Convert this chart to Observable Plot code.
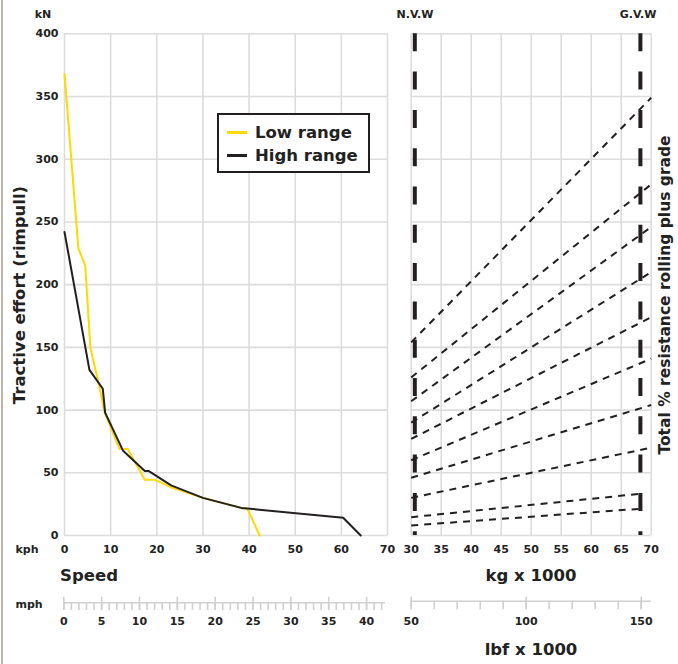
<!DOCTYPE html>
<html><head><meta charset="utf-8">
<script src="https://cdn.jsdelivr.net/npm/d3@7"></script>
<script src="https://cdn.jsdelivr.net/npm/@observablehq/plot@0.6"></script>
<style>
body{margin:0;background:#fff;}
#wrap{position:relative;width:678px;height:664px;font-family:"DejaVu Sans",sans-serif;font-weight:bold;color:#222;overflow:hidden;}
.lbl{position:absolute;white-space:nowrap;line-height:1;}
.abs{position:absolute;}
</style></head><body><div id="wrap"></div>
<script>
// ---------- data ----------
const kphTicks = [0, 10, 20, 30, 40, 50, 60, 70];
const kNTicks = [0, 50, 100, 150, 200, 250, 300, 350, 400];
const kgTicks = [30, 35, 40, 45, 50, 55, 60, 65, 70];
const mphMajor = [0, 5, 10, 15, 20, 25, 30, 35, 40];
const mphMinor = d3.range(0, 43, 1);
const lbfMajor = [50, 100, 150];
const lbfMinor = [50, 60, 70, 80, 90, 100, 110, 120, 130, 140, 150];

const lowKph  = [0, 3, 4.5, 5.6, 7.6, 8.7, 11.9, 13.7, 17.4, 19.5, 23, 30, 38.3, 39.6, 42.3];
const lowKN   = [368, 229, 215, 150, 118, 98, 69, 69, 44.5, 44.5, 38.5, 30, 22, 21.5, 0];
const highKph = [0, 5.4, 8.3, 8.8, 12.7, 17.4, 18.2, 23.1, 30, 38.3, 60.4, 64.2];
const highKN  = [242, 132, 117, 98, 67.5, 51.5, 51.5, 40, 30, 22, 14.1, 0];

// resistance lines (read at N.V.W side x=30 and at their right end)
const gradeStart = [154, 126, 107, 90, 77, 60, 46, 30, 14.6, 8];
const gradeEnd   = [349, 280, 246, 210, 174, 141, 104, 70, 33.5, 21.5];
const gradeEndKg = [70, 70, 70, 70, 70, 70, 70, 70, 68.7, 68.7];
const weightKg = [30.6, 68.2];

const seriesNames = ["Low range", "High range"];
const seriesColors = ["#ffd900", "#231f20"];

// ---------- build ----------
const FONT = "font-family:'DejaVu Sans',sans-serif;font-weight:bold;font-size:11px;color:#222;overflow:visible;background:none;";
const GRID = {stroke: "#dcdcdc", strokeOpacity: 1, strokeWidth: 1.6};
const wrap = document.getElementById("wrap");
function place(el, left, top) { el.classList.add("abs"); el.style.left = left + "px"; el.style.top = top + "px"; wrap.appendChild(el); }
function label(text, x, y, size, rot) {
  const d = document.createElement("div");
  d.className = "lbl"; d.textContent = text;
  d.style.left = x + "px"; d.style.top = y + "px"; d.style.fontSize = size + "px";
  d.style.transform = "translate(-50%,-50%)" + (rot ? " rotate(" + rot + "deg)" : "");
  wrap.appendChild(d);
}

const low = lowKph.map((k, i) => ({kph: k, kN: lowKN[i]}));
const high = highKph.map((k, i) => ({kph: k, kN: highKN[i]}));

const leftPlot = Plot.plot({
  width: 390, height: 560,
  marginLeft: 64, marginRight: 3, marginTop: 33.3, marginBottom: 25,
  style: FONT,
  x: {domain: [0, 70]},
  y: {domain: [0, 400]},
  marks: [
    Plot.gridX(kphTicks, GRID),
    Plot.gridY(kNTicks, GRID),
    Plot.line(low, {x: "kph", y: "kN", stroke: seriesColors[0], strokeWidth: 2}),
    Plot.line(high, {x: "kph", y: "kN", stroke: seriesColors[1], strokeWidth: 2}),
    Plot.axisX(kphTicks, {tickSize: 0, tickPadding: 9.5, label: null, fill: "#222"}),
    Plot.axisY(kNTicks, {tickSize: 0, tickPadding: 6, label: null, fill: "#222"})
  ]
});
place(leftPlot, 0, 0);

const grades = gradeStart.map((s, i) => ({x1: 30, y1: s, x2: gradeEndKg[i], y2: gradeEnd[i]}));
const rightPlot = Plot.plot({
  width: 328, height: 560,
  marginLeft: 60.7, marginRight: 27.3, marginTop: 33.3, marginBottom: 25,
  style: FONT,
  x: {domain: [30, 70]},
  y: {domain: [0, 400], axis: null},
  marks: [
    Plot.gridX(kgTicks, GRID),
    Plot.gridY(kNTicks, GRID),
    Plot.link(grades, {x1: "x1", y1: "y1", x2: "x2", y2: "y2", stroke: "#231f20", strokeWidth: 2, strokeDasharray: "7,6"}),
    Plot.ruleX(weightKg, {stroke: "#231f20", strokeWidth: 4, strokeDasharray: "18,20.3"}),
    Plot.axisX(kgTicks, {tickSize: 0, tickPadding: 9.5, label: null, fill: "#222"})
  ]
});
place(rightPlot, 350, 0);

const mphPlot = Plot.plot({
  width: 390, height: 45,
  marginLeft: 63.3, marginRight: 5, marginTop: 6.7, marginBottom: 25,
  style: FONT,
  x: {domain: [0, 42.5]},
  y: {domain: [0, 1], axis: null},
  marks: [
    Plot.ruleY([0.58], {x1: 0, x2: 42.5, stroke: "#d0d0d0", strokeWidth: 1.6}),
    Plot.ruleX(mphMinor, {y1: 0, y2: 0.58, stroke: "#d0d0d0", strokeWidth: 1.6}),
    Plot.ruleX(mphMajor, {y1: 0, y2: 1, stroke: "#d0d0d0", strokeWidth: 1.6}),
    Plot.axisX(mphMajor, {tickSize: 0, tickPadding: 6.7, label: null, fill: "#222"})
  ]
});
place(mphPlot, 0, 590);

const lbfPlot = Plot.plot({
  width: 328, height: 45,
  marginLeft: 60.7, marginRight: 27.3, marginTop: 6.7, marginBottom: 25.7,
  style: FONT,
  x: {domain: [50, 154.35]},
  y: {domain: [0, 1], axis: null},
  marks: [
    Plot.ruleY([0.68], {x1: 50, x2: 154.35, stroke: "#d0d0d0", strokeWidth: 1.6}),
    Plot.ruleX(lbfMinor, {y1: 0, y2: 0.68, stroke: "#d0d0d0", strokeWidth: 1.6}),
    Plot.ruleX(lbfMajor, {y1: 0, y2: 1, stroke: "#d0d0d0", strokeWidth: 1.6}),
    Plot.axisX(lbfMajor, {tickSize: 0, tickPadding: 7.4, label: null, fill: "#222"})
  ]
});
place(lbfPlot, 350, 590);

// text labels
label("kN", 43, 14, 11);
label("N.V.W", 415, 14, 11);
label("G.V.W", 638, 14, 11);
label("kph", 27, 548.5, 11);
label("mph", 29, 604, 11);
label("Speed", 89, 576, 16.5);
label("kg x 1000", 531, 576, 16.5);
label("lbf x 1000", 531, 650, 16.5);
label("Tractive effort (rimpull)", 20, 295, 16.5, -90);
label("Total % resistance rolling plus grade", 666, 295, 15.5, -90);

// legend
const lg = document.createElement("div");
lg.style.cssText = "position:absolute;left:217px;top:113px;width:149px;height:56px;border:2px solid #231f20;background:#fff;";
seriesNames.forEach((n, i) => {
  const sw = document.createElement("div");
  sw.style.cssText = `position:absolute;left:8px;top:${15.8 + i * 23.3}px;width:20px;height:3.4px;background:${seriesColors[i]};`;
  lg.appendChild(sw);
  const t = document.createElement("div");
  t.className = "lbl"; t.textContent = n;
  t.style.cssText += `left:36px;top:${17.5 + i * 23.3}px;font-size:16.5px;transform:translateY(-50%);`;
  lg.appendChild(t);
});
wrap.appendChild(lg);

// left page border
const bd = document.createElement("div");
bd.style.cssText = "position:absolute;left:1px;top:0;width:1.5px;height:664px;background:#bdb5aa;";
wrap.appendChild(bd);
</script>
</body></html>
